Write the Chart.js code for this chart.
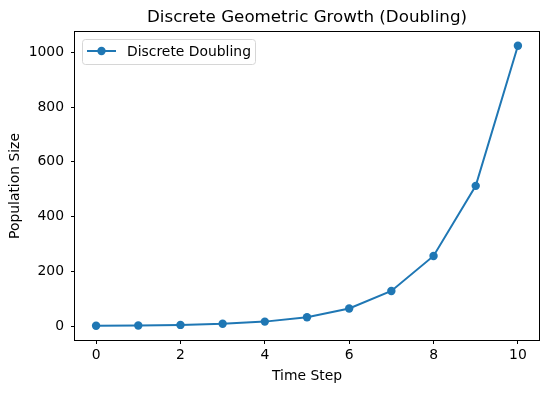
<!DOCTYPE html>
<html>
<head>
<meta charset="utf-8">
<script src="https://cdn.jsdelivr.net/npm/chart.js@4"></script>
<style>
  html, body { margin: 0; padding: 0; background: #fff; }
  #wrap { width: 549px; height: 393px; }
</style>
</head>
<body>
<div id="wrap"><canvas id="myChart" width="549" height="393"></canvas></div>
<script>
// Datos
const timeSteps = [0, 1, 2, 3, 4, 5, 6, 7, 8, 9, 10];
const population = [1, 2, 4, 8, 16, 32, 64, 128, 256, 512, 1024];
const xTicks = [0, 2, 4, 6, 8, 10];
const yTicks = [0, 200, 400, 600, 800, 1000];
const seriesName = "Discrete Doubling";
const chartTitle = "Discrete Geometric Growth (Doubling)";

const blue = "#1f77b4";
const font = "DejaVu Sans";

// Título, marco y leyenda dibujados a mano para imitar matplotlib
const extras = {
    id: "extras",
    afterDraw(chart) {
        const ctx = chart.ctx;
        const area = chart.chartArea;
        ctx.save();
        // marco
        ctx.strokeStyle = "#000";
        ctx.lineWidth = 1;
        ctx.strokeRect(Math.round(area.left) - 0.5, Math.round(area.top) - 0.5, Math.round(area.right - area.left) + 1, Math.round(area.bottom - area.top) + 1);
        // título
        ctx.fillStyle = "#000";
        ctx.font = `16.7px "${font}"`;
        ctx.textAlign = "center";
        ctx.textBaseline = "middle";
        ctx.fillText(chartTitle, (area.left + area.right) / 2, 18);
        // leyenda
        const x = 82.5, y = 39.5, w = 173, h = 25, r = 3;
        ctx.beginPath();
        ctx.roundRect(x, y, w, h, r);
        ctx.fillStyle = "rgba(255,255,255,0.8)";
        ctx.fill();
        ctx.strokeStyle = "#d6d6d6";
        ctx.stroke();
        ctx.beginPath();
        ctx.moveTo(87, 51);
        ctx.lineTo(116, 51);
        ctx.strokeStyle = blue;
        ctx.lineWidth = 2;
        ctx.stroke();
        ctx.beginPath();
        ctx.arc(101.5, 51, 4.2, 0, Math.PI * 2);
        ctx.fillStyle = blue;
        ctx.fill();
        ctx.fillStyle = "#000";
        ctx.font = `13.9px "${font}"`;
        ctx.textAlign = "left";
        ctx.fillText(seriesName, 127, 52);
        ctx.restore();
    }
};

const config = {
    type: "line",
    data: {
        datasets: [{
            label: seriesName,
            data: timeSteps.map((t, i) => ({ x: t, y: population[i] })),
            borderColor: blue,
            backgroundColor: blue,
            borderWidth: 2,
            pointRadius: 4.2,
            pointHoverRadius: 4.2,
            pointBorderWidth: 0,
            tension: 0
        }]
    },
    options: {
        responsive: false,
        animation: false,
        layout: { padding: { left: 0, top: 32, right: 10, bottom: 0 } },
        plugins: {
            legend: { display: false },
            title: { display: false },
            tooltip: { enabled: false }
        },
        scales: {
            x: {
                type: "linear",
                min: -0.5,
                max: 10.5,
                afterBuildTicks: (s) => { s.ticks = xTicks.map(v => ({ value: v })); },
                afterFit: (s) => { s.height = 53; },
                grid: { display: true, drawOnChartArea: false, drawTicks: true, tickLength: 4, tickColor: "#000" },
                border: { display: false },
                ticks: { color: "#000", font: { family: font, size: 13.9 }, padding: 3, maxRotation: 0 },
                title: { display: true, text: "Time Step", color: "#000", font: { family: font, size: 13.9 }, padding: { top: 0, bottom: 8 } }
            },
            y: {
                type: "linear",
                min: -51.15,
                max: 1074.15,
                afterBuildTicks: (s) => { s.ticks = yTicks.map(v => ({ value: v })); },
                afterFit: (s) => { s.width = 75; },
                grid: { display: true, drawOnChartArea: false, drawTicks: true, tickLength: 4, tickColor: "#000" },
                border: { display: false },
                ticks: { color: "#000", font: { family: font, size: 13.9 }, padding: 7, callback: (v) => String(v) },
                title: { display: true, text: "Population Size", color: "#000", font: { family: font, size: 13.9 }, padding: { top: 7, bottom: 0 } }
            }
        }
    },
    plugins: [extras]
};

const myChart = new Chart(document.querySelector("#myChart"), config);
</script>
</body>
</html>
